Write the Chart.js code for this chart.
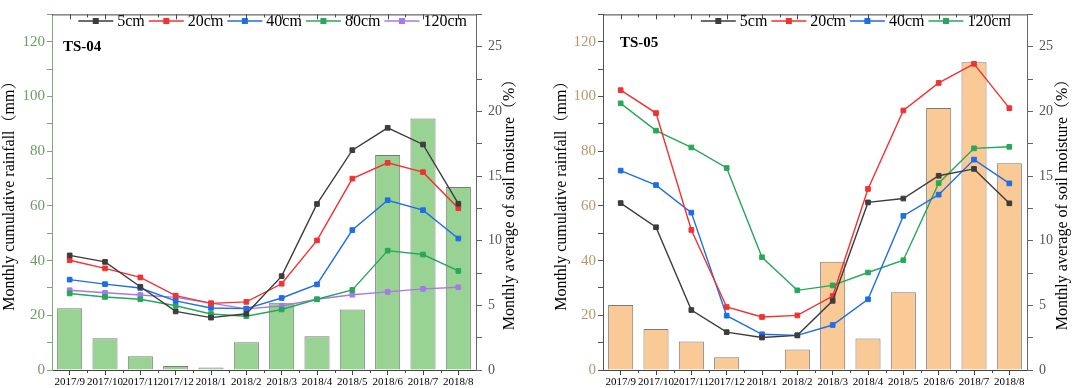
<!DOCTYPE html>
<html>
<head>
<meta charset="utf-8">
<script src="https://cdn.jsdelivr.net/npm/chart.js@4.4.1/dist/chart.umd.min.js"></script>
<style>
  body { margin: 0; background: #fff; }
  .wrap { display: flex; width: 1072px; height: 388px; }
  .box { position: relative; width: 536px; height: 388px; }
</style>
</head>
<body>
<div class="wrap">
  <div class="box"><canvas id="c1"></canvas></div>
  <div class="box"><canvas id="c2"></canvas></div>
</div>
<script>
const months = ['2017/9', '2017/10', '2017/11', '2017/12', '2018/1', '2018/2',
                '2018/3', '2018/4', '2018/5', '2018/6', '2018/7', '2018/8'];

// TS-04
const rain04 = [22.6, 11.6, 5.0, 1.5, 0.9, 10.1, 24.6, 12.3, 22.1, 78.6, 91.9, 66.9];
const sm04_5 = [8.86, 8.36, 6.44, 4.53, 4.05, 4.35, 7.26, 12.84, 17.0, 18.73, 17.44, 12.86];
const sm04_20 = [8.49, 7.86, 7.16, 5.75, 5.15, 5.27, 6.67, 10.02, 14.8, 16.02, 15.3, 12.51];
const sm04_40 = [6.99, 6.64, 6.34, 5.35, 4.80, 4.75, 5.57, 6.62, 10.82, 13.13, 12.36, 10.17];
const sm04_80 = [5.92, 5.65, 5.47, 4.97, 4.33, 4.16, 4.68, 5.47, 6.19, 9.23, 8.93, 7.66];
const sm04_120 = [6.17, 5.97, 5.80, 5.62, 5.17, 4.73, 4.95, 5.47, 5.82, 6.04, 6.27, 6.40];

// TS-05
const rain05 = [23.8, 15.0, 10.4, 4.7, 0, 7.5, 39.6, 11.5, 28.4, 95.8, 112.5, 75.6];
const sm05_5 = [12.91, 11.04, 4.64, 2.93, 2.51, 2.68, 5.35, 12.96, 13.26, 15.02, 15.55, 12.89];
const sm05_20 = [21.64, 19.87, 10.83, 4.87, 4.10, 4.22, 5.72, 14.0, 20.07, 22.2, 23.68, 20.25];
const sm05_40 = [15.42, 14.3, 12.17, 4.20, 2.76, 2.68, 3.48, 5.47, 11.92, 13.56, 16.27, 14.43];
const sm05_120 = [20.62, 18.51, 17.21, 15.62, 8.72, 6.16, 6.54, 7.54, 8.49, 14.45, 17.14, 17.26];

const FONT = '"Liberation Serif", "Noto Serif CJK SC", "Noto Sans CJK SC", serif';
const COLORS = { c5: '#3d3d3d', c20: '#f23232', c40: '#1e6ee6', c80: '#26a85a', c120: '#a878e6' };

function lineSet(label, data, color) {
  return {
    type: 'line', label, data, yAxisID: 'y1', order: 1,
    borderColor: color, backgroundColor: color, borderWidth: 1.4,
    pointStyle: 'rect', pointRadius: 3.3, pointBorderWidth: 1, tension: 0
  };
}

// legend drawn inside the plot: short line + square marker + label
const lineLegend = {
  id: 'lineLegend',
  afterDraw(chart, args, opts) {
    const ctx = chart.ctx;
    const items = chart.data.datasets.filter(d => d.type === 'line');
    ctx.save();
    ctx.font = '16px ' + FONT;
    const lineLen = 35, gapA = 4, gapB = 4;
    let total = 0;
    items.forEach(d => { total += lineLen + gapA + ctx.measureText(d.label).width; });
    total += gapB * (items.length - 1);
    let x = chart.chartArea.right - opts.right - total;
    const y = opts.y;
    items.forEach(d => {
      ctx.strokeStyle = d.borderColor;
      ctx.lineWidth = 1.4;
      ctx.beginPath();
      ctx.moveTo(x, y);
      ctx.lineTo(x + lineLen, y);
      ctx.stroke();
      ctx.fillStyle = d.borderColor;
      ctx.fillRect(x + lineLen / 2 - 3, y - 3, 6, 6);
      x += lineLen + gapA;
      ctx.fillStyle = '#000';
      ctx.textBaseline = 'middle';
      ctx.textAlign = 'left';
      ctx.fillText(d.label, x, y + 1);
      x += ctx.measureText(d.label).width + gapB;
    });
    ctx.restore();
  }
};

// top frame line with inward ticks, minor bottom ticks, station tag, right title
const frame = {
  id: 'frame',
  afterDraw(chart, args, opts) {
    const ctx = chart.ctx;
    const a = chart.chartArea;
    const xs = chart.scales.x;
    const n = chart.data.labels.length;
    ctx.save();
    ctx.strokeStyle = '#444';
    ctx.lineWidth = 1;
    ctx.beginPath();
    ctx.moveTo(a.left, a.top + 0.5);
    ctx.lineTo(a.right, a.top + 0.5);
    for (let i = 0; i < n; i++) {
      const cx = Math.round(xs.getPixelForValue(i)) + 0.5;
      ctx.moveTo(cx, a.top);
      ctx.lineTo(cx, a.top + 5);
      if (i < n - 1) {
        const bx = Math.round((xs.getPixelForValue(i) + xs.getPixelForValue(i + 1)) / 2) + 0.5;
        ctx.moveTo(bx, a.top);
        ctx.lineTo(bx, a.top + 3);
        ctx.moveTo(bx, a.bottom);
        ctx.lineTo(bx, a.bottom + 3);
      }
    }
    ctx.stroke();

    ctx.fillStyle = '#000';
    ctx.font = 'bold 15px ' + FONT;
    ctx.textBaseline = 'middle';
    ctx.textAlign = 'left';
    ctx.fillText(opts.tag, a.left + opts.tagX, opts.tagY);

    ctx.font = '16px ' + FONT;
    ctx.textAlign = 'center';
    ctx.translate(opts.titleX, opts.titleY);
    ctx.rotate(-Math.PI / 2);
    ctx.fillText('Monthly average of soil moisture（%）', 0, 0);
    ctx.restore();
  }
};

function makeChart(id, rain, lines, look) {
  return new Chart(document.getElementById(id), {
    data: {
      labels: months,
      datasets: [
        ...lines,
        {
          type: 'bar', label: 'rain', data: rain, yAxisID: 'y', order: 10,
          backgroundColor: look.barFill, borderColor: '#7a7a7a', borderWidth: 1,
          barPercentage: 0.71, categoryPercentage: 1
        }
      ]
    },
    options: {
      responsive: true,
      maintainAspectRatio: false,
      animation: false,
      layout: { padding: { top: 1, left: 0, right: 0, bottom: 0 } },
      plugins: {
        legend: { display: false },
        tooltip: { enabled: false },
        lineLegend: { right: look.legendRight, y: 21 },
        frame: { tag: look.tag, tagX: look.tagX, tagY: look.tagY, titleX: look.rTitleX, titleY: 201 }
      },
      scales: {
        x: {
          offset: true,
          afterFit: s => { s.height = 18; },
          grid: { display: true, offset: false, drawOnChartArea: false, tickLength: 5, color: '#444' },
          border: { color: '#444' },
          ticks: { autoSkip: false, maxRotation: 0, minRotation: 0, padding: 1, color: '#000',
                   font: { family: FONT, size: 11 } }
        },
        y: {
          position: 'left', min: 0, max: 130,
          afterFit: s => { s.width = look.leftW; },
          grid: { drawOnChartArea: false, tickLength: 5, color: look.leftAxis },
          border: { color: look.leftAxis },
          ticks: { stepSize: 10, padding: 2, color: look.leftText,
                   font: { family: FONT, size: 15 },
                   callback: v => (v % 20 === 0 ? v : '') },
          title: { display: true, text: 'Monthly cumulative rainfall（mm）', color: '#000',
                   font: { family: FONT, size: 16 }, padding: { top: look.lTitlePad, bottom: 0 } }
        },
        y1: {
          position: 'right', min: 0, max: 27.5,
          afterFit: s => { s.width = look.rightW; },
          grid: { drawOnChartArea: false, tickLength: 6, color: '#666' },
          border: { color: '#666' },
          ticks: { stepSize: 2.5, padding: 6, color: '#555',
                   font: { family: FONT, size: 14 },
                   callback: v => (v % 5 === 0 ? v : '') }
        }
      }
    },
    plugins: [lineLegend, frame]
  });
}

makeChart('c1', rain04, [
  lineSet('5cm', sm04_5, COLORS.c5),
  lineSet('20cm', sm04_20, COLORS.c20),
  lineSet('40cm', sm04_40, COLORS.c40),
  lineSet('80cm', sm04_80, COLORS.c80),
  lineSet('120cm', sm04_120, COLORS.c120)
], {
  barFill: '#98d394', leftAxis: '#7fa878', leftText: '#6f9a68',
  leftW: 52, rightW: 60, lTitlePad: 0, rTitleX: 510,
  legendRight: 9, tag: 'TS-04', tagX: 11, tagY: 47
});

makeChart('c2', rain05, [
  lineSet('5cm', sm05_5, COLORS.c5),
  lineSet('20cm', sm05_20, COLORS.c20),
  lineSet('40cm', sm05_40, COLORS.c40),
  lineSet('120cm', sm05_120, COLORS.c80)
], {
  barFill: '#f9c996', leftAxis: '#555', leftText: '#b9976c',
  leftW: 67, rightW: 45, lTitlePad: 16, rTitleX: 527,
  legendRight: 16, tag: 'TS-05', tagX: 17, tagY: 43
});
</script>
</body>
</html>
